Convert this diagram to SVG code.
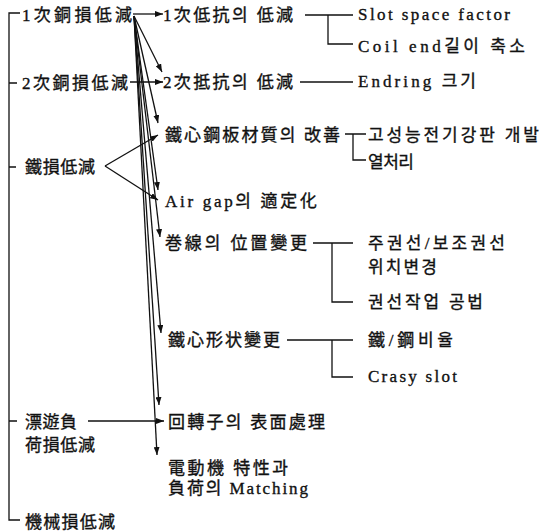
<svg xmlns="http://www.w3.org/2000/svg" width="541" height="532" viewBox="0 0 541 532">
<style>
.t{font-family:"Liberation Serif","Noto Sans CJK KR",serif;font-size:17px;fill:#111;stroke:#111;stroke-width:0.35}
.ln{stroke:#111;stroke-width:1.3;fill:none}
.ar{marker-end:url(#ah)}
</style>
<defs>
<marker id="ah" markerUnits="userSpaceOnUse" markerWidth="8" markerHeight="6" refX="8" refY="3" orient="auto">
<path d="M0,0 L8,3 L0,6 z" fill="#111"/>
</marker>
</defs>
<rect width="541" height="532" fill="#fff"/>
<g id="connectors">
<path class="ln" d="M20,13 H9 V520 H20 M9,83 H17 M9,167 H16 M9,421 H17"/>
<path class="ln ar" d="M133,14 H163"/>
<path class="ln ar" d="M134,16 L162,72"/>
<path class="ln ar" d="M134,16 L158,123"/>
<path class="ln ar" d="M134,16 L158,190"/>
<path class="ln ar" d="M134,16 L160,237"/>
<path class="ln ar" d="M134,16 L161,333"/>
<path class="ln ar" d="M134,16 L159,405"/>
<path class="ln ar" d="M134,16 L157,455"/>
<path class="ln ar" d="M130,82 H163"/>
<path class="ln ar" d="M105,166 L158,135"/>
<path class="ln ar" d="M105,166 L158,200"/>
<path class="ln ar" d="M88,421 H164"/>
<path class="ln" d="M305,15 H353 M328,15 V44 H353"/>
<path class="ln" d="M300,82 H353"/>
<path class="ln" d="M345,134 H366 M353,134 V160 H366"/>
<path class="ln" d="M313,243 H353 M332,243 V302 H353"/>
<path class="ln" d="M287,340 H353 M332,340 V377 H353"/>
</g>
<g id="n1"><text class="t" x="22" y="21" textLength="110" lengthAdjust="spacing">1次銅損低減</text></g>
<g id="n2"><text class="t" x="22" y="89" textLength="106" lengthAdjust="spacing">2次銅損低減</text></g>
<g id="n3"><text class="t" x="25" y="173" textLength="70" lengthAdjust="spacing">鐵損低減</text></g>
<g id="n4"><text class="t" x="25" y="428" textLength="52" lengthAdjust="spacing">漂遊負</text><text class="t" x="25" y="451" textLength="70" lengthAdjust="spacing">荷損低減</text></g>
<g id="n5"><text class="t" x="25" y="528" textLength="90" lengthAdjust="spacing">機械損低減</text></g>
<g id="r1"><text class="t" x="163" y="21" textLength="130" lengthAdjust="spacing">1次低抗의 低減</text></g>
<g id="r1a"><text class="t" x="358" y="20" textLength="152" lengthAdjust="spacing">Slot space factor</text></g>
<g id="r1b"><text class="t" x="358" y="52" textLength="167" lengthAdjust="spacing">Coil end길이 축소</text></g>
<g id="r2"><text class="t" x="163" y="88" textLength="130" lengthAdjust="spacing">2次抵抗의 低減</text></g>
<g id="r2a"><text class="t" x="358" y="87" textLength="118" lengthAdjust="spacing">Endring 크기</text></g>
<g id="r3"><text class="t" x="165" y="141" textLength="175" lengthAdjust="spacing">鐵心鋼板材質의 改善</text></g>
<g id="r3a"><text class="t" x="368" y="141" textLength="171" lengthAdjust="spacing">고성능전기강판 개발</text></g>
<g id="r3b"><text class="t" x="368" y="168" textLength="46" lengthAdjust="spacing">열처리</text></g>
<g id="r4"><text class="t" x="165" y="207" textLength="152" lengthAdjust="spacing">Air gap의 適定化</text></g>
<g id="r5"><text class="t" x="165" y="249" textLength="142" lengthAdjust="spacing">巻線의 位置變更</text></g>
<g id="r5a"><text class="t" x="368" y="249" textLength="137" lengthAdjust="spacing">주권선/보조권선</text><text class="t" x="368" y="273" textLength="69" lengthAdjust="spacing">위치변경</text></g>
<g id="r5b"><text class="t" x="368" y="308" textLength="115" lengthAdjust="spacing">권선작업 공법</text></g>
<g id="r6"><text class="t" x="168" y="346" textLength="112" lengthAdjust="spacing">鐵心形状變更</text></g>
<g id="r6a"><text class="t" x="368" y="346" textLength="85" lengthAdjust="spacing">鐵/鋼비율</text></g>
<g id="r6b"><text class="t" x="368" y="382" textLength="89" lengthAdjust="spacing">Crasy slot</text></g>
<g id="r7"><text class="t" x="168" y="428" textLength="157" lengthAdjust="spacing">回轉子의 表面處理</text></g>
<g id="r8"><text class="t" x="168" y="474" textLength="120" lengthAdjust="spacing">電動機 特性과</text><text class="t" x="168" y="494" textLength="140" lengthAdjust="spacing">負荷의 Matching</text></g>
</svg>
